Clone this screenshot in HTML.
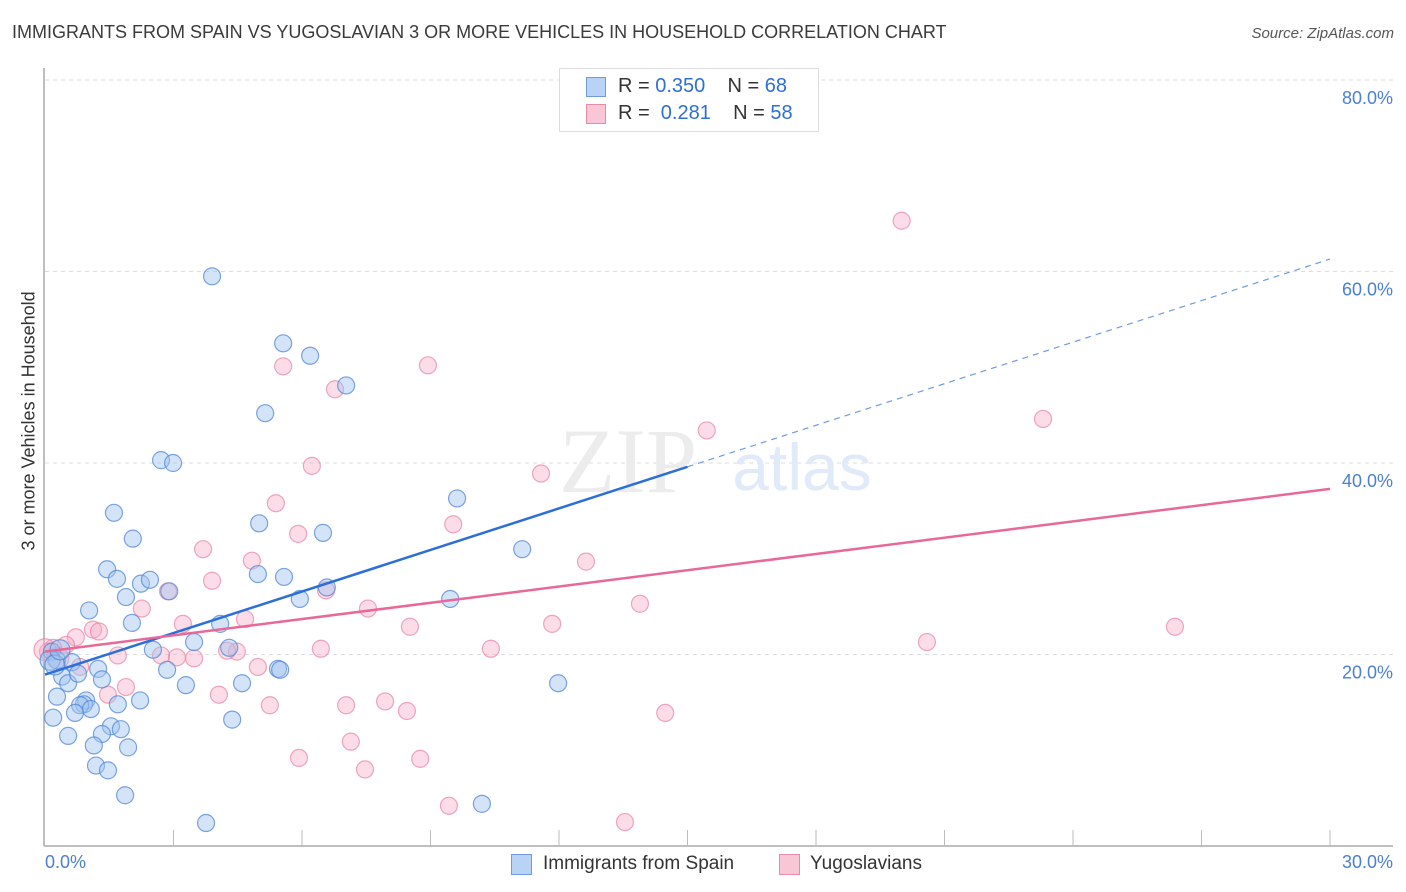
<!DOCTYPE html>
<html><head><meta charset="utf-8">
<style>
body{margin:0;background:#fff;font-family:"Liberation Sans",sans-serif;}
#wrap{position:relative;width:1406px;height:892px;overflow:hidden;}
.t{position:absolute;white-space:nowrap;}
</style></head>
<body><div id="wrap">
<div class="t" style="left:12px;top:22px;font-size:18px;color:#3a3a3a">IMMIGRANTS FROM SPAIN VS YUGOSLAVIAN 3 OR MORE VEHICLES IN HOUSEHOLD CORRELATION CHART</div>
<div class="t" style="right:12px;top:25px;font-size:15px;color:#555;font-style:italic">Source: ZipAtlas.com</div>
<div class="t" style="left:-66px;top:445px;font-size:18px;color:#333;transform:rotate(-90deg);transform-origin:center;width:190px;text-align:center">3 or more Vehicles in Household</div>
<svg id="svg" width="1406" height="892" style="position:absolute;left:0;top:0"></svg>
</div>
<script>
const blueX=[3.90,5.56,6.19,7.03,5.14,2.71,2.99,9.62,1.61,5.00,6.49,2.05,11.14,1.45,1.68,2.24,2.45,4.97,5.58,2.90,1.89,6.58,5.95,9.46,1.03,2.03,4.09,3.48,2.52,4.30,0.16,0.28,0.63,1.24,2.85,5.44,5.49,0.40,0.54,0.77,1.33,3.29,4.60,11.98,0.28,0.96,0.91,0.82,1.07,1.70,2.22,0.70,0.19,4.37,1.54,1.77,1.33,0.54,1.14,1.94,1.19,1.47,1.87,10.20,3.76,0.12,0.23,0.35];
const blueY=[59.5,52.5,51.2,48.1,45.2,40.3,40.0,36.3,34.8,33.7,32.7,32.1,31.0,28.9,27.9,27.4,27.8,28.4,28.1,26.6,26.0,27.0,25.8,25.8,24.6,23.3,23.2,21.3,20.5,20.7,20.3,19.4,19.2,18.5,18.4,18.5,18.4,17.7,17.0,18.0,17.4,16.8,17.0,17.0,15.6,15.2,14.8,14.7,14.3,14.8,15.2,13.9,13.4,13.2,12.5,12.2,11.7,11.5,10.5,10.3,8.4,7.9,5.3,4.4,2.4,19.4,18.9,20.5];
const pinkX=[20.0,5.56,8.94,6.77,23.3,15.45,6.23,11.58,5.39,9.53,5.91,3.69,4.83,12.63,3.90,2.87,6.56,13.89,2.26,7.54,4.67,8.52,3.22,11.84,26.38,1.12,1.26,0.72,0.49,20.59,0.19,0.07,6.44,10.41,4.48,1.70,2.71,3.08,3.48,4.25,4.97,0.82,1.89,1.47,4.06,5.25,7.94,7.03,8.45,14.48,7.14,5.93,8.76,7.47,9.43,13.54,0.30,0.0];
const pinkY=[65.3,50.1,50.2,47.7,44.6,43.4,39.7,38.9,35.8,33.6,32.6,31.0,29.8,29.7,27.7,26.6,26.7,25.3,24.8,24.8,23.7,22.9,23.2,23.2,22.9,22.6,22.4,21.8,21.0,21.3,20.7,20.3,20.6,20.6,20.3,19.9,19.9,19.7,19.6,20.4,18.7,18.7,16.6,15.8,15.8,14.7,15.1,14.7,14.1,13.9,10.9,9.2,9.1,8.0,4.2,2.5,19.6,20.5];
const blueTrend=[17.9,39.6,61.3]; // y at x=0,15,30
const pinkTrend=[20.3,37.3]; // y at x=0,30
const yTicks=[20,40,60,80];
const yTickLabels=["20.0%","40.0%","60.0%","80.0%"];
const xTickVals=[3,6,9,12,15,18,21,24,27,30];

const X=v=>45+v/30*1285;
const Y=v=>846-v*9.575;
const svg=document.getElementById('svg');
const NS='http://www.w3.org/2000/svg';
function mk(tag,attrs,parent){const e=document.createElementNS(NS,tag);for(const k in attrs)e.setAttribute(k,attrs[k]);(parent||svg).appendChild(e);return e;}

yTicks.forEach((v,i)=>{
  const g=mk('line',{x1:45,x2:1393,y1:Y(v),y2:Y(v),stroke:'#ddd','stroke-dasharray':'4,4'});
  
  
  const t=mk('text',{x:1393,y:Y(v)+24,'text-anchor':'end','font-size':18,fill:'#4a7fd6','font-family':'Liberation Sans, sans-serif'});
  t.textContent=yTickLabels[i];
  
  
});
const ax=mk('line',{x1:44,x2:44,y1:68,y2:846,stroke:'#aaa','stroke-width':1.5});


const bx=mk('line',{x1:44,x2:1393,y1:846,y2:846,stroke:'#aaa','stroke-width':1.5});


xTickVals.forEach(v=>{
  const l=mk('line',{x1:X(v),x2:X(v),y1:830,y2:846,stroke:'#bbb'});
  
  
});
const wm=mk('text',{x:628,y:492,'text-anchor':'middle','font-size':92,fill:'#ececec','font-family':'Liberation Serif, serif'});
wm.textContent='ZIP';


const wm2=mk('text',{x:802,y:490,'text-anchor':'middle','font-size':66,fill:'#e0eaf8','font-family':'Liberation Sans, sans-serif'});
wm2.textContent='atlas';



pinkX.forEach((x,i)=>{
  const c=mk('circle',{cx:X(x),cy:Y(pinkY[i]),r:i>=56?11:8.5,fill:'rgba(247,170,194,0.4)',stroke:'rgba(232,130,165,0.7)','stroke-width':1.2});
  
  
});
blueX.forEach((x,i)=>{
  const c=mk('circle',{cx:X(x),cy:Y(blueY[i]),r:i>=65?10:8.5,fill:'rgba(160,195,240,0.45)',stroke:'rgba(80,135,215,0.75)','stroke-width':1.2});
  
  
});
const bl=mk('line',{x1:X(0),y1:Y(blueTrend[0]),x2:X(15),y2:Y(blueTrend[1]),stroke:'#2d6fd6','stroke-width':2.5});


const bd=mk('line',{x1:X(15),y1:Y(blueTrend[1]),x2:X(30),y2:Y(blueTrend[2]),stroke:'#6e9be0','stroke-width':1.2,'stroke-dasharray':'6,5'});


const pl=mk('line',{x1:X(0),y1:Y(pinkTrend[0]),x2:X(30),y2:Y(pinkTrend[1]),stroke:'#e8689a','stroke-width':2.5});


</script>
<div class="t" style="left:45px;top:852px;font-size:18px;color:#4a7fd6">0.0%</div>
<div class="t" style="right:13px;top:852px;font-size:18px;color:#4a7fd6">30.0%</div>
<div style="position:absolute;left:559px;top:68px;width:258px;height:62px;border:1px solid #ddd;background:#fff;font-size:20px;color:#333">
 <div style="position:absolute;left:26px;top:8px;width:18px;height:18px;background:#b8d3f5;border:1px solid #6e9be0"></div>
 <div class="t" style="left:58px;top:6px">R = <span style="color:#2d6fd6">0.350</span>&nbsp;&nbsp;&nbsp; N = <span style="color:#2d6fd6">68</span></div>
 <div style="position:absolute;left:26px;top:35px;width:18px;height:18px;background:#f9c6d5;border:1px solid #e88aa8"></div>
 <div class="t" style="left:58px;top:33px">R = &nbsp;<span style="color:#2d6fd6">0.281</span>&nbsp;&nbsp;&nbsp; N = <span style="color:#2d6fd6">58</span></div>
</div>
<div style="position:absolute;left:511px;top:854px;width:19px;height:19px;background:#b8d3f5;border:1px solid #6e9be0"></div>
<div class="t" style="left:543px;top:853px;font-size:19px;color:#333">Immigrants from Spain</div>
<div style="position:absolute;left:779px;top:854px;width:19px;height:19px;background:#f9c6d5;border:1px solid #e88aa8"></div>
<div class="t" style="left:810px;top:853px;font-size:19px;color:#333">Yugoslavians</div>
</body></html>
